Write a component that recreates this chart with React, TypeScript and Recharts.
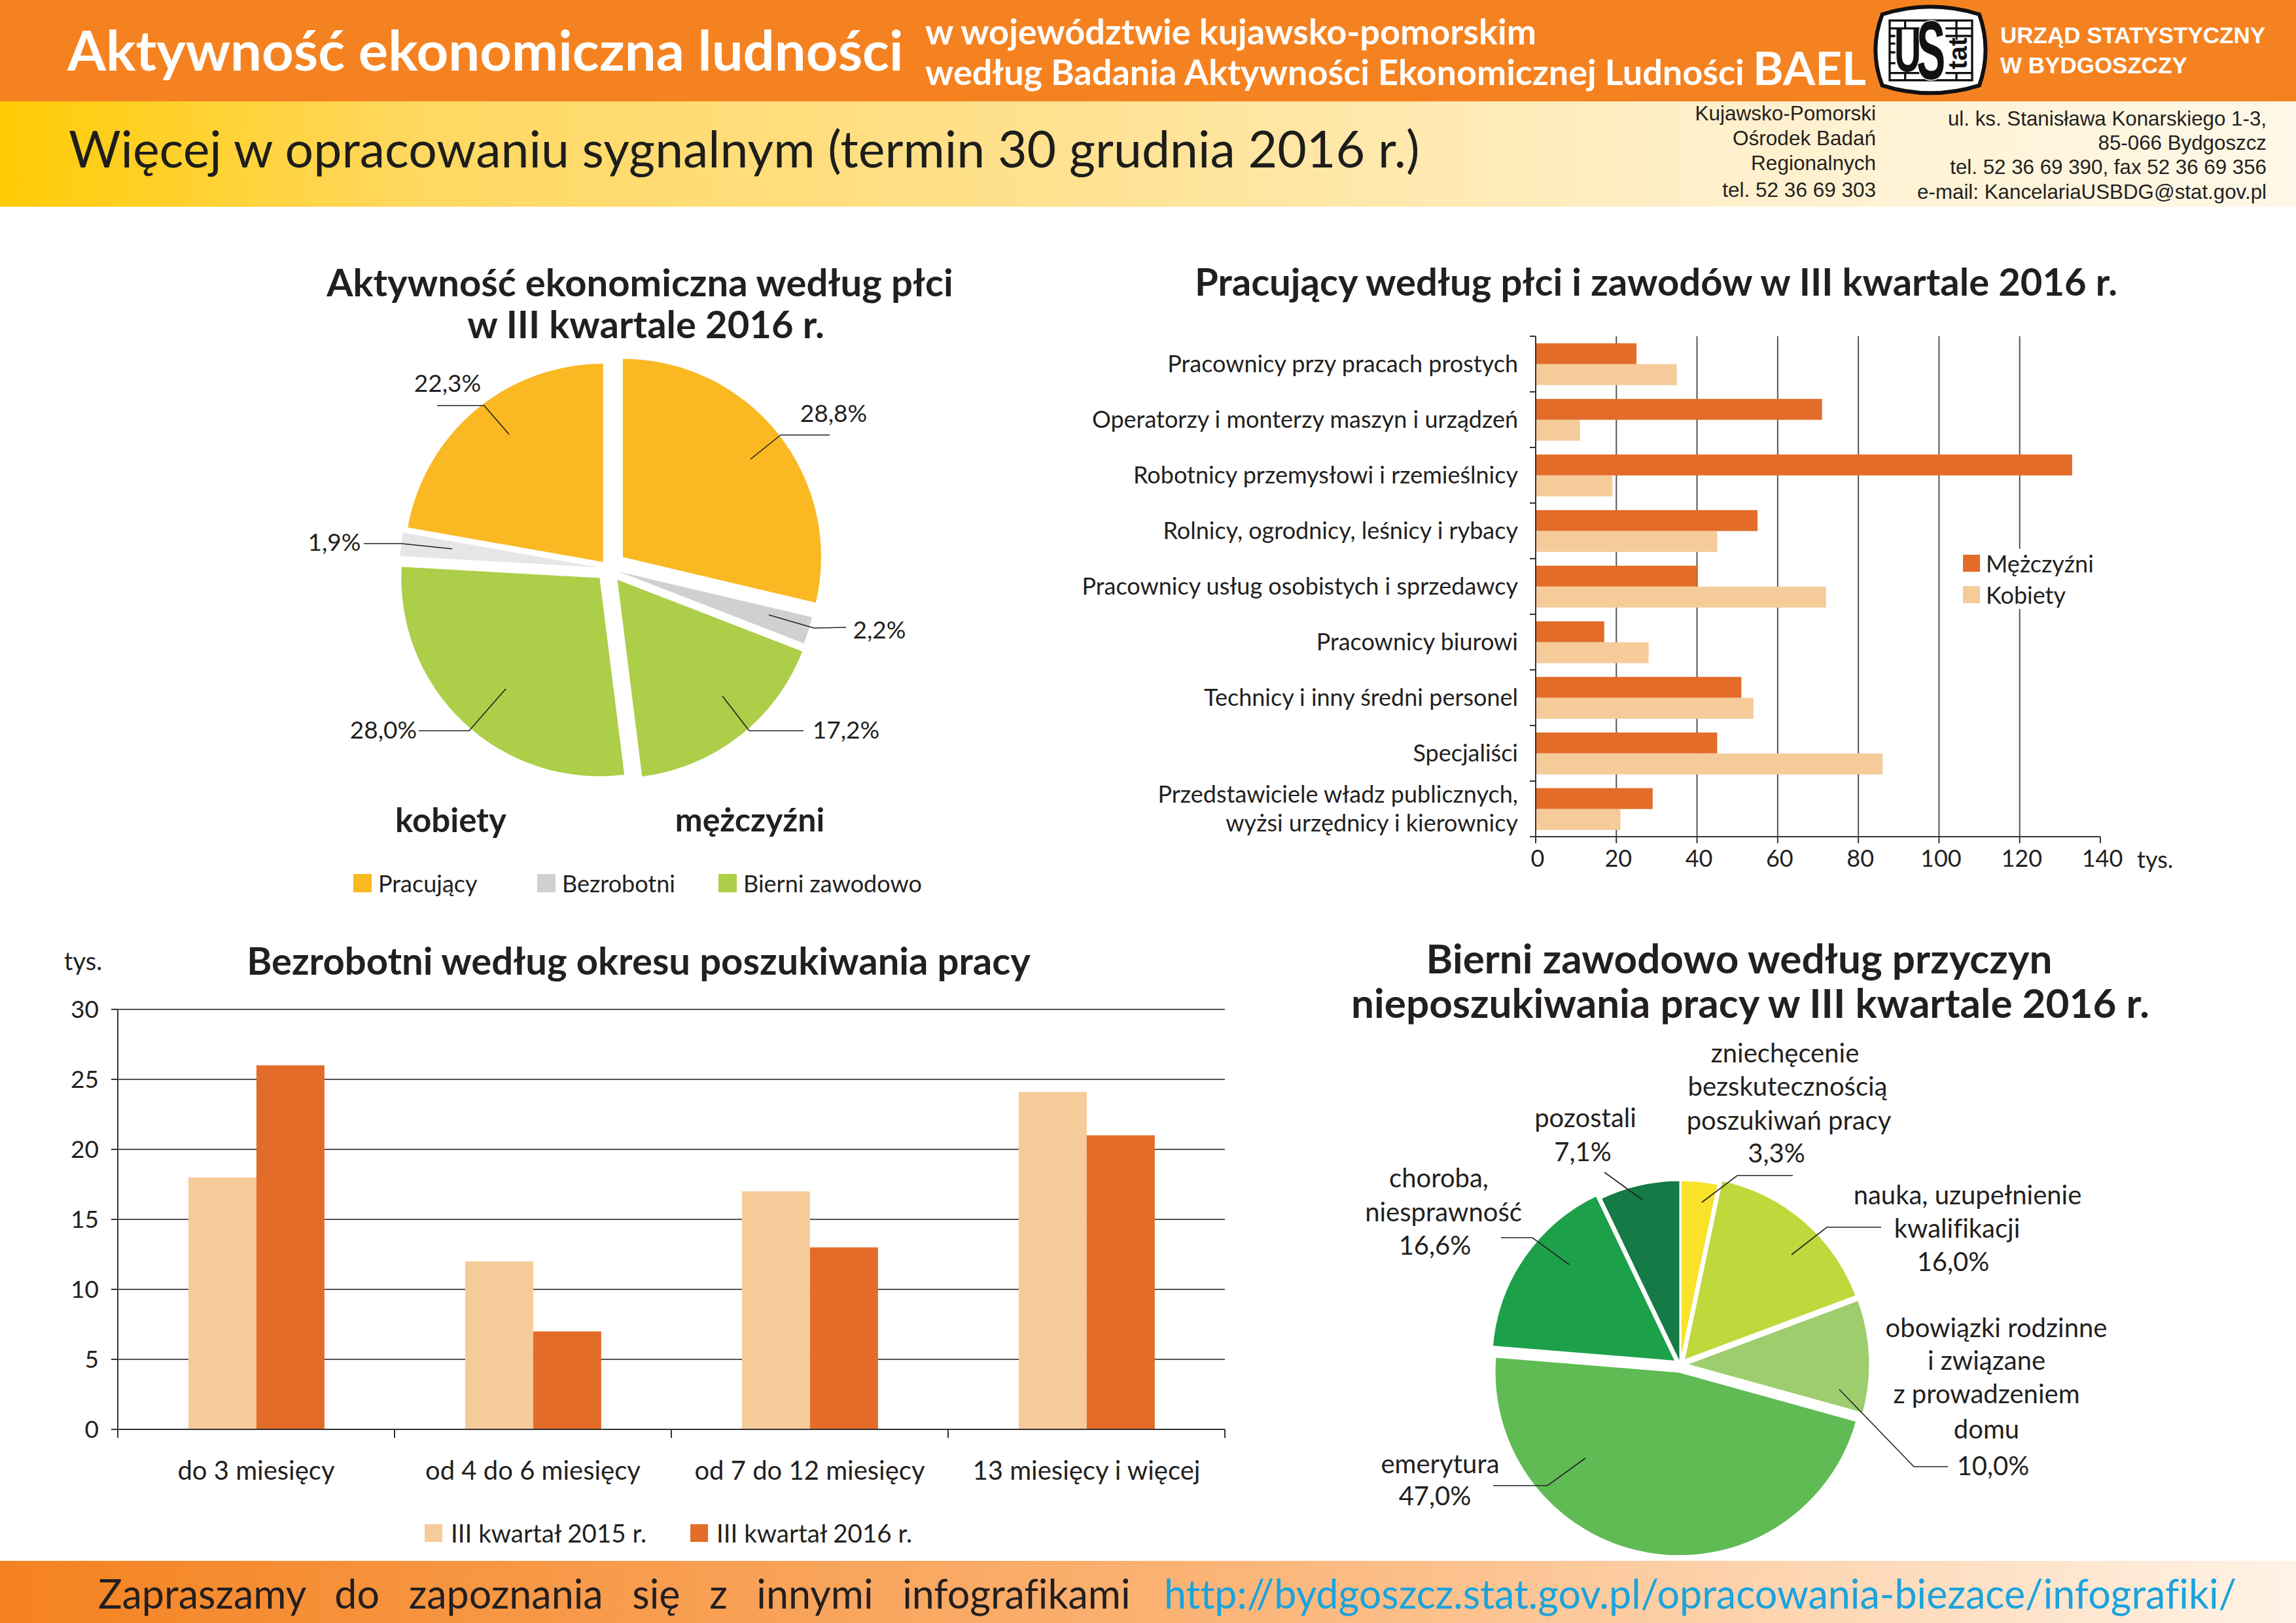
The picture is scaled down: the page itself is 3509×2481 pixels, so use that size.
import React from "react";
import {
  BarChart, Bar, XAxis, YAxis, CartesianGrid, Legend, PieChart, Pie, Cell, Sector,
} from "recharts";

const FONT = "Lato";
const INK = "#231F20";
const ORANGE = "#E36C29";
const PEACH = "#F6CB9A";

// pie 1: activity by sex
const activityNames = ["Pracujący", "Bezrobotni", "Bierni zawodowo", "Bierni zawodowo", "Bezrobotni", "Pracujący"];
const activityValues = [28.8, 2.2, 17.2, 28.0, 1.9, 22.3];
const activityColors = ["#FAB823", "#D0D0D0", "#ADCE48", "#ADCE48", "#E6E6E6", "#FAB823"];
const activityExplode = [28, 17, 22, 20, 16, 13];

// horizontal bars: employed by occupation
const occupations = [
  "Pracownicy przy pracach prostych",
  "Operatorzy i monterzy maszyn i urządzeń",
  "Robotnicy przemysłowi i rzemieślnicy",
  "Rolnicy, ogrodnicy, leśnicy i rybacy",
  "Pracownicy usług osobistych i sprzedawcy",
  "Pracownicy biurowi",
  "Technicy i inny średni personel",
  "Specjaliści",
  "Przedstawiciele władz publicznych,\nwyżsi urzędnicy i kierownicy",
];
const men = [25, 71, 133, 55, 40, 17, 51, 45, 29];
const women = [35, 11, 19, 45, 72, 28, 54, 86, 21];
const occTicks = [0, 20, 40, 60, 80, 100, 120, 140];

// columns: unemployed by search time
const periods = ["do 3 miesięcy", "od 4 do 6 miesięcy", "od 7 do 12 miesięcy", "13 miesięcy i więcej"];
const q3of2015 = [18, 12, 17, 24.1];
const q3of2016 = [26, 7, 13, 21];
const searchTicks = [0, 5, 10, 15, 20, 25, 30];

// pie 2: reasons for not seeking work
const reasonLines = [
  ["zniechęcenie", "bezskutecznością", "poszukiwań pracy"],
  ["nauka, uzupełnienie", "kwalifikacji"],
  ["obowiązki rodzinne", "i związane", "z prowadzeniem", "domu"],
  ["emerytura"],
  ["choroba,", "niesprawność"],
  ["pozostali"],
];
const reasonValues = [3.3, 16.0, 10.0, 47.0, 16.6, 7.1];
const reasonColors = ["#F9E229", "#BFD83B", "#9ECD6E", "#60BB55", "#1DA04A", "#157A45"];
const reasonExplode = [0, 8, 8, 11, 8, 0];

const activityData = activityValues.map((value, i) => ({
  name: activityNames[i], value, explode: activityExplode[i],
}));
const occData = occupations.map((name, i) => ({ name, men: men[i], women: women[i] }));
const searchData = periods.map((name, i) => ({ name, a: q3of2015[i], b: q3of2016[i] }));
const reasonData = reasonValues.map((value, i) => ({
  name: reasonLines[i].join(" "), value, explode: reasonExplode[i],
}));

const pct = (v: number) => `${v.toFixed(1).replace(".", ",")}%`;

// leader polylines and text anchors, in page pixels
const PIE1 = { left: 460, top: 520, cx: 930, cy: 869, r: 303 };
const activityLeaders = [
  [[1147, 702], [1193, 665], [1268, 665]],
  [[1175, 940], [1244, 960], [1293, 959]],
  [[1104, 1064], [1145, 1117], [1228, 1117]],
  [[773, 1053], [717, 1117], [640, 1117]],
  [[691, 839], [614, 831], [556, 831]],
  [[778, 664], [740, 620], [668, 620]],
];
const activityLabelAt = [[1274, 630], [1344, 961], [1293, 1114], [586, 1114], [511, 827], [684, 584]];

const PIE2 = { left: 2060, top: 1560, cx: 2568, cy: 2086, r: 282 };
const reasonLeaders = [
  [[2601, 1838], [2655, 1797], [2740, 1797]],
  [[2738, 1918], [2792, 1876], [2875, 1876]],
  [[2811, 2124], [2925, 2242], [2977, 2242]],
  [[2423, 2229], [2365, 2271], [2282, 2271]],
  [[2398, 1933], [2342, 1892], [2294, 1892]],
  [[2510, 1834], [2452, 1792]],
];
const reasonLabelAt = [
  [[2728, 1609], [2732, 1660], [2734, 1712], [2715, 1762]],
  [[3007, 1826], [2991, 1877], [2985, 1928]],
  [[3051, 2029], [3036, 2079], [3036, 2130], [3036, 2184], [3046, 2240]],
  [[2201, 2237], [2193, 2286]],
  [[2199, 1800], [2206, 1852], [2193, 1903]],
  [[2423, 1708], [2419, 1760]],
];

// exploded slice: shift the sector along its mid angle
function ExplodedSector(props: any) {
  const rad = (props.midAngle * Math.PI) / 180;
  const d = props.explode ?? 0;
  return <Sector {...props} cx={props.cx + d * Math.cos(rad)} cy={props.cy - d * Math.sin(rad)} />;
}

function Txt({ x, y, size, bold, color = INK, anchor = "left", family = FONT, children }: any) {
  const tx = anchor === "center" ? "translate(-50%,-50%)" : anchor === "right" ? "translate(-100%,-50%)" : "translateY(-50%)";
  return (
    <div style={{
      position: "absolute", left: x, top: y, transform: tx, whiteSpace: "pre",
      fontFamily: family, fontSize: size, fontWeight: bold ? 700 : 400, color, lineHeight: 1,
    }}>{children}</div>
  );
}

function LegendKey({ items, gap, size = 28, fontSize = 36, keyGap = 10, vertical }: any) {
  return (
    <div style={{ display: "flex", flexDirection: vertical ? "column" : "row", gap, background: "#fff", fontFamily: FONT, fontSize, color: INK }}>
      {items.map((it: any) => (
        <div key={it.label} style={{ display: "flex", alignItems: "center", gap: keyGap, width: it.w, whiteSpace: "pre" }}>
          <span style={{ width: size, height: size, background: it.color, display: "inline-block" }} />
          {it.label}
        </div>
      ))}
    </div>
  );
}

function Logo() {
  const shape = "M110 66 Q330 -4 555 66 Q612 230 555 392 Q330 462 110 392 Q48 230 110 66 Z";
  return (
    <svg style={{ position: "absolute", left: 2840, top: 0 }} width={220} height={160} viewBox="0 0 660 480">
      <path d={shape} fill="#fff" stroke="#111" strokeWidth={18} />
      <g stroke="#111" strokeWidth={10} fill="none">
        <rect x={144} y={94} width={378} height={274} />
        <path d="M400 130 H520 M400 165 H520 M450 94 V200 M400 335 H520 M450 335 V368" />
        <path d="M144 130 H280 M144 165 H170 M144 200 H170 M144 240 H170 M144 290 H170 M144 335 H280 M215 94 V130 M215 335 V368" />
      </g>
      <text transform="translate(165 326) scale(0.6 1)" fontFamily="Liberation Sans" fontWeight={700} fontSize={285} fill="#111">U</text>
      <text transform="translate(268 362) scale(0.52 1)" fontFamily="Liberation Sans" fontWeight={700} fontSize={380} fill="#111" stroke="#fff" strokeWidth={8} paintOrder="stroke">S</text>
      <text transform="translate(497 318) rotate(-90)" fontFamily="Liberation Sans" fontWeight={700} fontSize={120} fill="#111" stroke="#fff" strokeWidth={6} paintOrder="stroke">tat</text>
    </svg>
  );
}

function Header() {
  return (
    <>
      <div style={{ position: "absolute", left: 0, top: 0, width: 3509, height: 155, background: "#F58220" }} />
      <div style={{ position: "absolute", left: 0, top: 155, width: 3509, height: 161, background: "linear-gradient(90deg,#FFCB05 0%,#FFD860 18%,#FFE397 50%,#FFF0CC 75%,#FFF8E8 100%)" }} />
      <Txt x={103} y={75} size={85} bold color="#fff">Aktywność ekonomiczna ludności</Txt>
      <Txt x={1414} y={48} size={54} bold color="#fff">w województwie kujawsko-pomorskim</Txt>
      <Txt x={1414} y={110} size={54} bold color="#fff">według Badania Aktywności Ekonomicznej Ludności</Txt>
      <Txt x={2679} y={102} size={71} bold color="#fff">BAEL</Txt>
      <Txt x={3057} y={53} size={35} bold color="#fff" family="Liberation Sans">URZĄD STATYSTYCZNY</Txt>
      <Txt x={3057} y={99} size={35} bold color="#fff" family="Liberation Sans">W BYDGOSZCZY</Txt>
      <Logo />
      <Txt x={105} y={226} size={77} color="#1D1D1B">Więcej w opracowaniu sygnalnym (termin 30 grudnia 2016 r.)</Txt>
      {["Kujawsko-Pomorski", "Ośrodek Badań", "Regionalnych", "tel. 52 36 69 303"].map((t, i) => (
        <Txt key={t} x={2867} y={[174, 212, 250, 291][i]} size={31.5} anchor="right" family="Liberation Sans">{t}</Txt>
      ))}
      {["ul. ks. Stanisława Konarskiego 1-3,", "85-066 Bydgoszcz", "tel. 52 36 69 390, fax 52 36 69 356", "e-mail: KancelariaUSBDG@stat.gov.pl"].map((t, i) => (
        <Txt key={t} x={3464} y={[182, 219, 256, 294][i]} size={31.3} anchor="right" family="Liberation Sans">{t}</Txt>
      ))}
    </>
  );
}

function Footer() {
  return (
    <>
      <div style={{ position: "absolute", left: 0, top: 2386, width: 3509, height: 95, background: "linear-gradient(90deg,#F58220 0%,#FBB67A 55%,#FFF3E6 100%)" }} />
      <Txt x={150} y={2435} size={61}>
        <span style={{ wordSpacing: 29 }}>Zapraszamy do zapoznania się z innymi infografikami</span>
      </Txt>
      <Txt x={1779} y={2435} size={61} color="#1AA3DD">http://bydgoszcz.stat.gov.pl/opracowania-biezace/infografiki/</Txt>
    </>
  );
}

function ActivityPie() {
  const label = (p: any) => {
    const line = activityLeaders[p.index].map(([x, y]) => `${x - PIE1.left},${y - PIE1.top}`).join(" ");
    const [lx, ly] = activityLabelAt[p.index];
    return (
      <g key={p.index}>
        <polyline points={line} fill="none" stroke="#222" strokeWidth={1.6} />
        <text x={lx - PIE1.left} y={ly - PIE1.top} textAnchor="middle" dominantBaseline="central" fontFamily={FONT} fontSize={37} fill={INK}>{pct(p.value)}</text>
      </g>
    );
  };
  return (
    <div style={{ position: "absolute", left: PIE1.left, top: PIE1.top }}>
      <PieChart width={960} height={860} margin={{ top: 0, right: 0, bottom: 0, left: 0 }}>
        <Pie data={activityData} dataKey="value" cx={PIE1.cx - PIE1.left} cy={PIE1.cy - PIE1.top} outerRadius={PIE1.r}
          startAngle={90} endAngle={-270} stroke="none" isAnimationActive={false} shape={ExplodedSector} label={label} labelLine={false}>
          {activityColors.map((c, i) => <Cell key={i} fill={c} />)}
        </Pie>
        <Legend align="center" verticalAlign="middle" wrapperStyle={{ left: 80, top: 808, width: 880 }}
          content={() => (
            <LegendKey gap={0} items={[
              { label: "Pracujący", color: "#FAB823", w: 281 },
              { label: "Bezrobotni", color: "#D0D0D0", w: 277 },
              { label: "Bierni zawodowo", color: "#ADCE48" },
            ]} />
          )} />
      </PieChart>
    </div>
  );
}

const OCC = { left: 1600, top: 480, width: 1800, height: 880, plotLeft: 2347, plotRight: 3210, plotTop: 514, plotBottom: 1279 };

function OccTick({ x, y, payload }: any) {
  const half = (OCC.plotBottom - OCC.plotTop) / occupations.length / 2;
  const lines = String(payload.value).split("\n");
  return (
    <g>
      <line x1={x - 9} x2={x} y1={y - half} y2={y - half} stroke="#333" strokeWidth={2} />
      <line x1={x - 9} x2={x} y1={y + half} y2={y + half} stroke="#333" strokeWidth={2} />
      <text textAnchor="end" fontFamily={FONT} fontSize={36} fill={INK}>
        {lines.map((l, i) => (
          <tspan key={l} x={x - 27} y={y - 2 + (i - (lines.length - 1) / 2) * 44} dominantBaseline="central">{l}</tspan>
        ))}
      </text>
    </g>
  );
}

function OccupationBars() {
  return (
    <div style={{ position: "absolute", left: OCC.left, top: OCC.top }}>
      <BarChart width={OCC.width} height={OCC.height} data={occData} layout="vertical"
        barCategoryGap="12.5%" barGap={0}
        margin={{ top: OCC.plotTop - OCC.top, right: OCC.left + OCC.width - OCC.plotRight, bottom: 21, left: 0 }}>
        <CartesianGrid horizontal={false} verticalValues={occTicks.slice(1, -1)} stroke="#555" strokeWidth={2} />
        <XAxis type="number" domain={[0, 140]} ticks={occTicks} height={60} interval={0} tickSize={10} tickMargin={10}
          stroke="#333" strokeWidth={2} tick={{ fontFamily: FONT, fontSize: 36, fill: INK, dx: 3 }} />
        <YAxis type="category" dataKey="name" width={OCC.plotLeft - OCC.left} interval={0} tickLine={false} tickSize={0} tickMargin={0}
          stroke="#333" strokeWidth={2} tick={<OccTick />} />
        <Bar dataKey="men" name="Mężczyźni" fill={ORANGE} isAnimationActive={false} />
        <Bar dataKey="women" name="Kobiety" fill={PEACH} isAnimationActive={false} />
        <Legend align="center" verticalAlign="middle" wrapperStyle={{ left: 1400, top: 359, width: 230 }}
          content={() => (
            <LegendKey vertical gap={4} size={26} keyGap={9} items={[
              { label: "Mężczyźni", color: ORANGE },
              { label: "Kobiety", color: PEACH },
            ]} />
          )} />
      </BarChart>
      <Txt x={1666} y={833} size={36}>tys.</Txt>
    </div>
  );
}

const SEARCH = { left: 60, top: 1500, width: 1860, height: 880, plotLeft: 180, plotRight: 1872, plotTop: 1543, plotBottom: 2185 };

function PeriodTick({ x, y, payload }: any) {
  const half = (SEARCH.plotRight - SEARCH.plotLeft) / periods.length / 2;
  return (
    <g>
      <line x1={x - half} x2={x - half} y1={y} y2={y + 13} stroke="#333" strokeWidth={2} />
      <line x1={x + half} x2={x + half} y1={y} y2={y + 13} stroke="#333" strokeWidth={2} />
      <text x={x} y={y + 62} textAnchor="middle" dominantBaseline="central" fontFamily={FONT} fontSize={40} fill={INK}>{payload.value}</text>
    </g>
  );
}

function SearchBars() {
  return (
    <div style={{ position: "absolute", left: SEARCH.left, top: SEARCH.top }}>
      <BarChart width={SEARCH.width} height={SEARCH.height} data={searchData}
        barCategoryGap="25.5%" barGap={0}
        margin={{ top: SEARCH.plotTop - SEARCH.top, right: SEARCH.left + SEARCH.width - SEARCH.plotRight, bottom: 100, left: 0 }}>
        <CartesianGrid vertical={false} stroke="#555" strokeWidth={2} />
        <XAxis dataKey="name" height={95} interval={0} tickLine={false} tickSize={0} tickMargin={0} stroke="#333" strokeWidth={2} tick={<PeriodTick />} />
        <YAxis type="number" domain={[0, 30]} ticks={searchTicks} width={SEARCH.plotLeft - SEARCH.left} interval={0} tickSize={10} tickMargin={19}
          stroke="#333" strokeWidth={2} tick={{ fontFamily: FONT, fontSize: 37, fill: INK }} />
        <Bar dataKey="a" name="III kwartał 2015 r." fill={PEACH} isAnimationActive={false} />
        <Bar dataKey="b" name="III kwartał 2016 r." fill={ORANGE} isAnimationActive={false} />
        <Legend align="center" verticalAlign="middle" wrapperStyle={{ left: 589, top: 820, width: 900 }}
          content={() => (
            <LegendKey gap={0} size={27} fontSize={38.5} keyGap={13} items={[
              { label: "III kwartał 2015 r.", color: PEACH, w: 406 },
              { label: "III kwartał 2016 r.", color: ORANGE },
            ]} />
          )} />
      </BarChart>
    </div>
  );
}

function ReasonPie() {
  const label = (p: any) => {
    const line = reasonLeaders[p.index].map(([x, y]) => `${x - PIE2.left},${y - PIE2.top}`).join(" ");
    const texts = [...reasonLines[p.index], pct(p.value)];
    return (
      <g key={p.index}>
        <polyline points={line} fill="none" stroke="#222" strokeWidth={1.6} />
        {texts.map((t, i) => {
          const [lx, ly] = reasonLabelAt[p.index][i];
          return (
            <text key={t} x={lx - PIE2.left} y={ly - PIE2.top} textAnchor="middle" dominantBaseline="central" fontFamily={FONT} fontSize={40} fill={INK}>{t}</text>
          );
        })}
      </g>
    );
  };
  return (
    <div style={{ position: "absolute", left: PIE2.left, top: PIE2.top }}>
      <PieChart width={1340} height={826} margin={{ top: 0, right: 0, bottom: 0, left: 0 }}>
        <Pie data={reasonData} dataKey="value" cx={PIE2.cx - PIE2.left} cy={PIE2.cy - PIE2.top} outerRadius={PIE2.r}
          startAngle={90} endAngle={-270} stroke="#fff" strokeWidth={3} isAnimationActive={false} shape={ExplodedSector} label={label} labelLine={false}>
          {reasonColors.map((c, i) => <Cell key={i} fill={c} />)}
        </Pie>
      </PieChart>
    </div>
  );
}

export default function App() {
  return (
    <div style={{ position: "absolute", left: 0, top: 0, width: 3509, height: 2481, background: "#fff", overflow: "hidden", fontVariantLigatures: "none" }}>
      <Header />
      <ActivityPie />
      <OccupationBars />
      <SearchBars />
      <ReasonPie />
      <Txt x={978} y={431} size={58} bold anchor="center">Aktywność ekonomiczna według płci</Txt>
      <Txt x={987} y={495} size={58} bold anchor="center">w III kwartale 2016 r.</Txt>
      <Txt x={689} y={1252} size={51} bold anchor="center">kobiety</Txt>
      <Txt x={1146} y={1252} size={50} bold anchor="center">mężczyźni</Txt>
      <Txt x={2531} y={430} size={58} bold anchor="center">Pracujący według płci i zawodów w III kwartale 2016 r.</Txt>
      <Txt x={976} y={1468} size={58} bold anchor="center">Bezrobotni według okresu poszukiwania pracy</Txt>
      <Txt x={127} y={1468} size={38} anchor="center">tys.</Txt>
      <Txt x={2658} y={1464} size={62} bold anchor="center">Bierni zawodowo według przyczyn</Txt>
      <Txt x={2675} y={1532} size={62} bold anchor="center">nieposzukiwania pracy w III kwartale 2016 r.</Txt>
      <Footer />
    </div>
  );
}
